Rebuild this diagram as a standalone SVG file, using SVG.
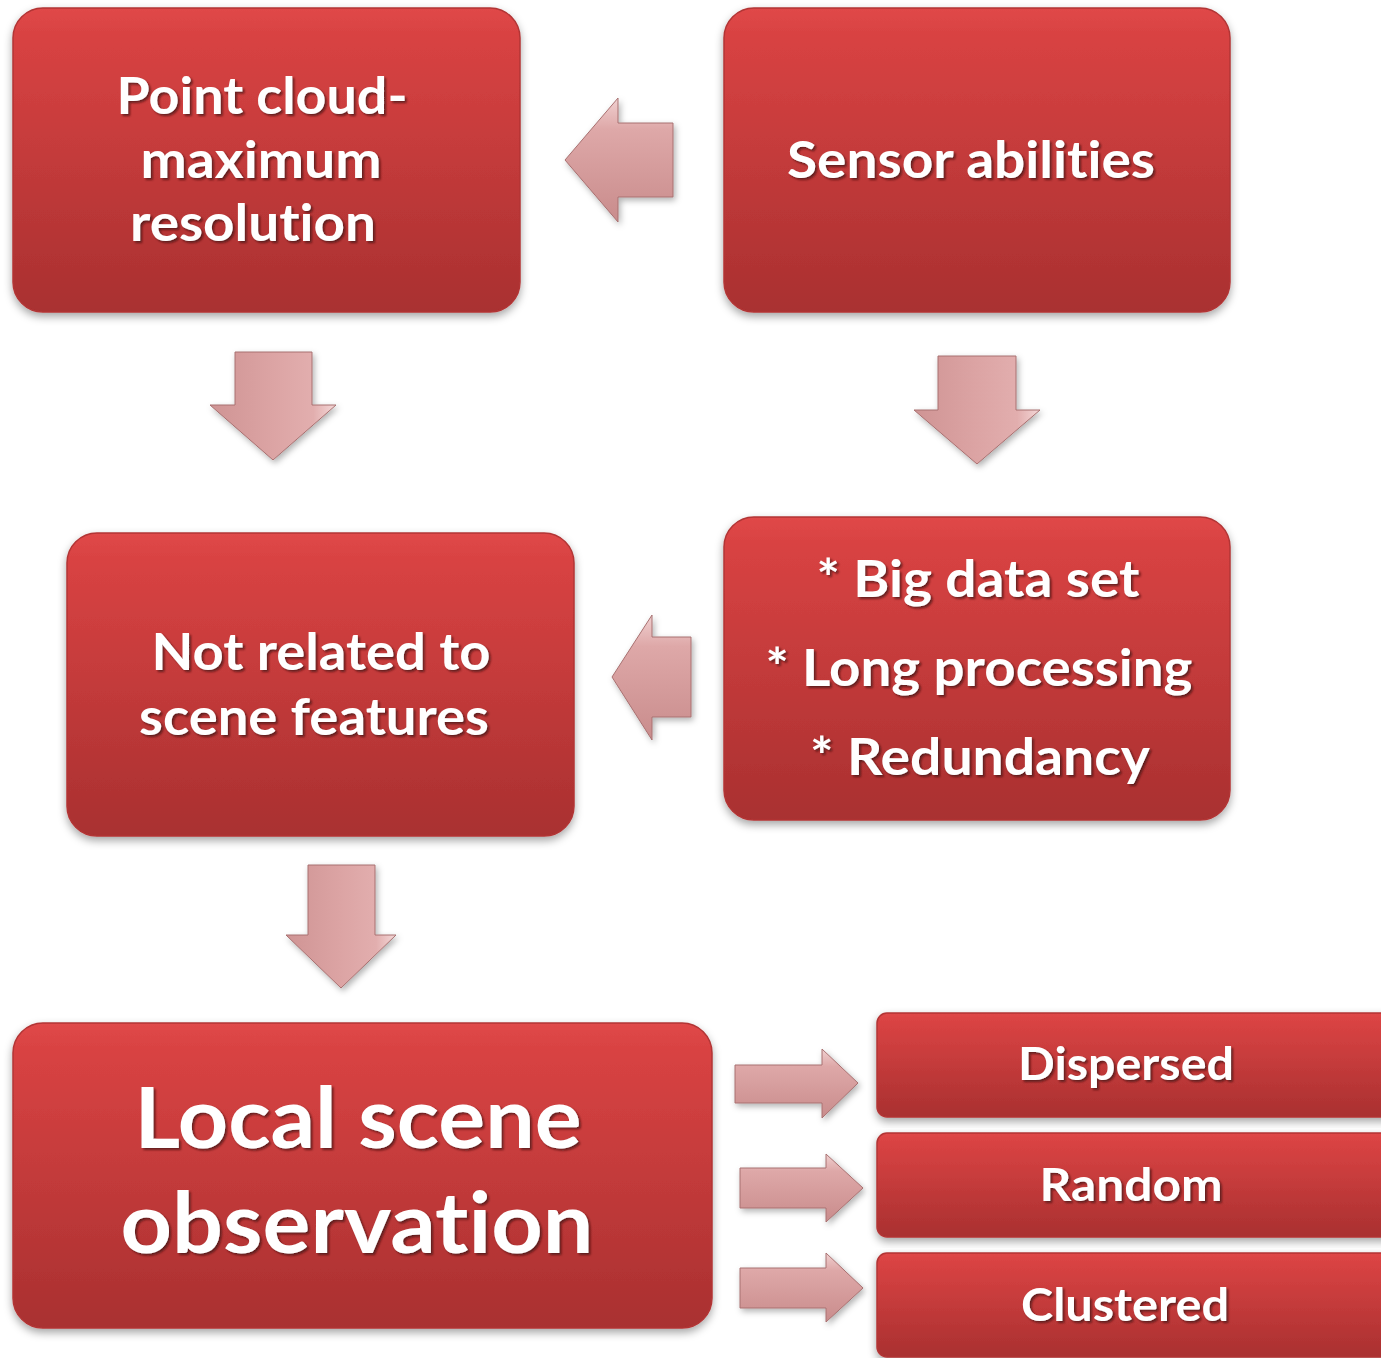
<svg xmlns="http://www.w3.org/2000/svg" width="1381" height="1358" viewBox="0 0 1381 1358">
<defs>
<linearGradient id="boxg" x1="0" y1="0" x2="0" y2="1">
<stop offset="0" stop-color="#e04848"/>
<stop offset="0.08" stop-color="#d94343"/>
<stop offset="1" stop-color="#a93030"/>
</linearGradient>
<linearGradient id="arrv" x1="0" y1="0" x2="1" y2="0">
<stop offset="0" stop-color="#cf9494"/>
<stop offset="0.5" stop-color="#dca4a4"/>
<stop offset="0.82" stop-color="#e2aeae"/>
<stop offset="1" stop-color="#f4d8d8"/>
</linearGradient>
<linearGradient id="arrh" x1="0" y1="0" x2="0" y2="1">
<stop offset="0" stop-color="#f0d0d0"/>
<stop offset="0.25" stop-color="#dea8a8"/>
<stop offset="1" stop-color="#c98c8c"/>
</linearGradient>
<filter id="bsh" x="-5%" y="-5%" width="110%" height="115%">
<feDropShadow dx="0" dy="4" stdDeviation="4" flood-color="#000" flood-opacity="0.35"/>
</filter>
<filter id="ash" x="-20%" y="-20%" width="140%" height="140%">
<feDropShadow dx="2" dy="3" stdDeviation="3" flood-color="#000" flood-opacity="0.3"/>
</filter>
<filter id="tsh" x="-5%" y="-10%" width="110%" height="130%">
<feDropShadow dx="2" dy="2" stdDeviation="1.2" flood-color="#3a0a0a" flood-opacity="0.7"/>
</filter>
</defs>
<style>
.box{fill:url(#boxg);stroke:#b23535;stroke-width:1.5;filter:url(#bsh)}
.t{font-family:Lato,"Open Sans","Liberation Sans",sans-serif;font-weight:bold;fill:#ffffff;text-anchor:middle;filter:url(#tsh);font-variant-ligatures:none;font-feature-settings:"liga" 0,"dlig" 0}
.av{fill:url(#arrv);stroke:#a87070;stroke-width:1;filter:url(#ash)}
.ah{fill:url(#arrh);stroke:#a87070;stroke-width:1;filter:url(#ash)}
</style>
<rect width="1381" height="1358" fill="#ffffff"/>

<g id="connectors">
<polygon class="ah" points="565,160 618,98 618,123 673,123 673,197 618,197 618,222"/>
<polygon class="av" points="235,352 312,352 312,405 336,405 273,460 210,405 235,405"/>
<polygon class="av" points="938,356 1016,356 1016,410 1040,410 977,464 914,410 938,410"/>
<polygon class="ah" points="612,677 652,615 652,637 691,637 691,717 652,717 652,740"/>
<polygon class="av" points="308,865 375,865 375,935 396,935 341,988 286,935 308,935"/>
<polygon class="ah" points="735,1065 822,1065 822,1049 858,1083 822,1118 822,1103 735,1103"/>
<polygon class="ah" points="740,1168 826,1168 826,1154 863,1188 826,1222 826,1208 740,1208"/>
<polygon class="ah" points="740,1268 826,1268 826,1253 863,1288 826,1322 826,1308 740,1308"/>
</g>

<g id="node-pointcloud">
<rect class="box" x="13" y="8" width="507" height="304" rx="30"/>
<text class="t" font-size="52" x="262" y="114" textLength="291" lengthAdjust="spacingAndGlyphs">Point cloud-</text>
<text class="t" font-size="52" x="261" y="178" textLength="241" lengthAdjust="spacingAndGlyphs">maximum</text>
<text class="t" font-size="52" x="253" y="241" textLength="246" lengthAdjust="spacingAndGlyphs">resolution</text>
</g>

<g id="node-sensor">
<rect class="box" x="724" y="8" width="506" height="304" rx="30"/>
<text class="t" font-size="52" x="971" y="178" textLength="368" lengthAdjust="spacingAndGlyphs">Sensor abilities</text>
</g>

<g id="node-notrelated">
<rect class="box" x="67" y="533" width="507" height="303" rx="30"/>
<text class="t" font-size="52" x="321" y="670" textLength="339" lengthAdjust="spacingAndGlyphs">Not related to</text>
<text class="t" font-size="52" x="314" y="735" textLength="350" lengthAdjust="spacingAndGlyphs">scene features</text>
</g>

<g id="node-bigdata">
<rect class="box" x="724" y="517" width="506" height="303" rx="30"/>
<text class="t" font-size="52" x="978" y="597" textLength="323" lengthAdjust="spacingAndGlyphs">* Big data set</text>
<text class="t" font-size="52" x="979" y="686" textLength="427" lengthAdjust="spacingAndGlyphs">* Long processing</text>
<text class="t" font-size="52" x="980" y="775" textLength="340" lengthAdjust="spacingAndGlyphs">* Redundancy</text>
</g>

<g id="node-local">
<rect class="box" x="13" y="1023" width="699" height="305" rx="30"/>
<text class="t" font-size="84" x="358" y="1148" textLength="447" lengthAdjust="spacingAndGlyphs">Local scene</text>
<text class="t" font-size="84" x="357" y="1253" textLength="473" lengthAdjust="spacingAndGlyphs">observation</text>
</g>

<g id="node-dispersed">
<rect class="box" x="877" y="1013" width="530" height="104" rx="10"/>
<text class="t" font-size="46" x="1126" y="1080" textLength="216" lengthAdjust="spacingAndGlyphs">Dispersed</text>
</g>

<g id="node-random">
<rect class="box" x="877" y="1133" width="530" height="104" rx="10"/>
<text class="t" font-size="46" x="1131" y="1201" textLength="183" lengthAdjust="spacingAndGlyphs">Random</text>
</g>

<g id="node-clustered">
<rect class="box" x="877" y="1253" width="530" height="104" rx="10"/>
<text class="t" font-size="46" x="1125" y="1321" textLength="208" lengthAdjust="spacingAndGlyphs">Clustered</text>
</g>
</svg>
